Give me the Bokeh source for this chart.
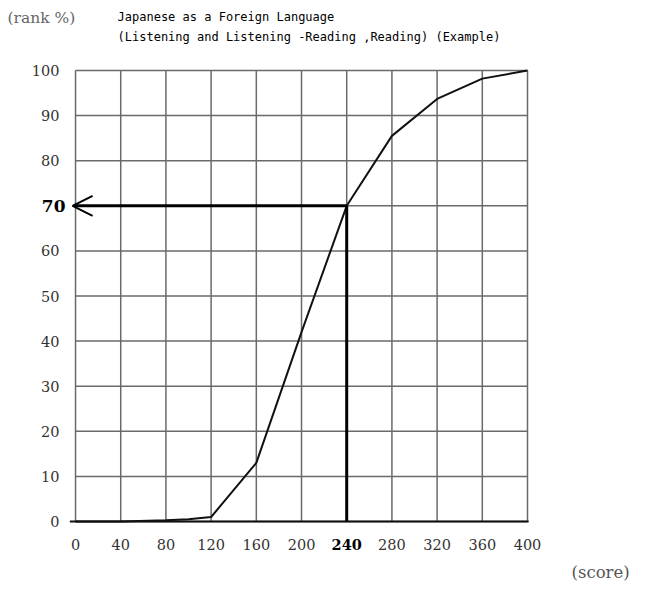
from bokeh.plotting import figure
from bokeh.models import Range1d, Arrow, OpenHead, ColumnDataSource
from bokeh.core.properties import value
from bokeh.embed import file_html
from bokeh.resources import INLINE

# data
score = [0, 40, 80, 100, 120, 160, 200, 240, 280, 320, 360, 400]
rank = [0, 0, 0.3, 0.5, 1, 13, 42, 70, 85.5, 93.7, 98.2, 100]
x_ticks = [0, 40, 80, 120, 160, 200, 240, 280, 320, 360, 400]
y_ticks = [0, 10, 20, 30, 40, 50, 60, 70, 80, 90, 100]
target_score = 240
target_rank = 70
title_lines = ["Japanese as a Foreign Language",
               "(Listening and Listening -Reading ,Reading) (Example)"]
y_label = "(rank %)"
x_label = "(score)"

SERIF = "DejaVu Serif"
MONO = "DejaVu Sans Mono"

x0, x1 = x_ticks[0], x_ticks[-1]
y0, y1 = y_ticks[0], y_ticks[-1]

# the frame covers the whole canvas; the scale puts the data box where the reference has it
p = figure(width=640, height=581, output_backend="svg", toolbar_location=None,
           x_range=Range1d(-66.4, 500.0), y_range=Range1d(-13.3, 115.52),
           min_border=0, x_axis_location=None, y_axis_location=None)
p.grid.visible = False
p.outline_line_color = None
p.background_fill_color = "white"
p.border_fill_color = "white"

# grid
p.segment(x0=x_ticks, y0=[y0] * len(x_ticks), x1=x_ticks, y1=[y1] * len(x_ticks),
          line_color="#6a6a6a", line_width=1.5)
p.segment(x0=[x0] * len(y_ticks), y0=y_ticks, x1=[x1] * len(y_ticks), y1=y_ticks,
          line_color="#6a6a6a", line_width=1.5)
# base line
p.segment(x0=[x0 - 5], y0=[y0], x1=[x1 + 1], y1=[y0], line_color="#111111", line_width=2)

# curve
p.line(score, rank, line_color="#111111", line_width=2)

# guide lines
p.line([target_score, target_score], [y0, target_rank], line_color="black", line_width=3)
p.add_layout(Arrow(x_start=target_score, y_start=target_rank, x_end=x0 - 2.6, y_end=target_rank,
                   line_color="black", line_width=3,
                   end=OpenHead(size=20, line_width=2, line_color="black")))

# x tick labels
xsrc = ColumnDataSource(dict(
    x=x_ticks, y=[y0] * len(x_ticks), text=[str(t) for t in x_ticks],
    style=["bold" if t == target_score else "normal" for t in x_ticks],
    color=["black" if t == target_score else "#333333" for t in x_ticks]))
p.text(x="x", y="y", text="text", source=xsrc, y_offset=23,
       text_align="center", text_baseline="middle",
       text_font=value(SERIF), text_font_size=value("14.5px"),
       text_font_style="style", text_color="color")

# y tick labels
ysrc = ColumnDataSource(dict(
    x=[x0] * len(y_ticks), y=y_ticks, text=[str(t) for t in y_ticks],
    style=["bold" if t == target_rank else "normal" for t in y_ticks],
    size=["17px" if t == target_rank else "14.5px" for t in y_ticks],
    off=[-10 if t == target_rank else -16 for t in y_ticks],
    color=["black" if t == target_rank else "#333333" for t in y_ticks]))
p.text(x="x", y="y", text="text", source=ysrc, x_offset="off",
       text_align="right", text_baseline="middle",
       text_font=value(SERIF), text_font_size="size",
       text_font_style="style", text_color="color")

# axis captions
p.text(x=[x0], y=[y1], text=[y_label], x_offset=-68, y_offset=-52,
       text_align="left", text_baseline="middle",
       text_font=value(SERIF), text_font_size=value("15.5px"), text_color="#666666")
p.text(x=[x1], y=[y0], text=[x_label], x_offset=44, y_offset=51,
       text_align="left", text_baseline="middle",
       text_font=value(SERIF), text_font_size=value("16.5px"), text_color="#555555")

# title
p.text(x=[x0, x0], y=[y1, y1], text=title_lines, x_offset=42, y_offset=[-53, -33],
       text_align="left", text_baseline="middle",
       text_font=value(MONO), text_font_size=value("12px"), text_color="black")

open("out.html", "w").write(file_html(p, INLINE))
